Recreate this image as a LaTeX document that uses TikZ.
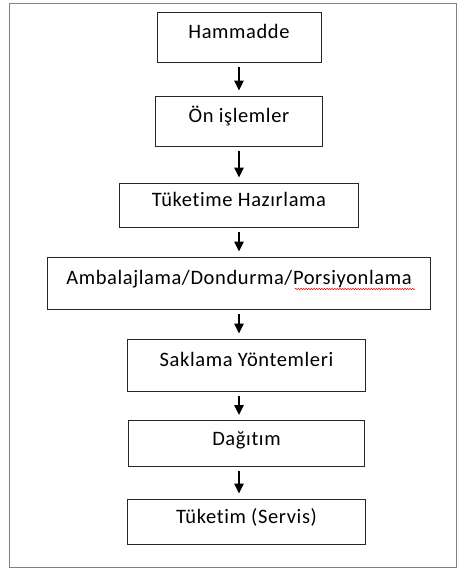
\documentclass[tikz,border=0pt]{standalone}
\usepackage{fontspec}
\setmainfont{Carlito}[Ligatures={NoCommon}, LetterSpace=3]
\usetikzlibrary{arrows.meta}
\usetikzlibrary{decorations.pathmorphing}
\usetikzlibrary{calc,positioning}

\begin{document}
\begin{tikzpicture}[x=1pt, y=-1pt,
  stepbox/.style = {rectangle, draw=black!85, line width=1pt, align=center, inner sep=0,
    font=\fontsize{20.5}{24}\selectfont, text height=15pt, text depth=12pt},
  arr/.style = {-{Triangle[width=9.5pt,length=10pt]}, line width=1.1pt, shorten <=4pt, shorten >=5pt},
  spell/.style = {red, line width=0.5pt, decorate, decoration={snake, amplitude=0.7pt, segment length=2.6pt}},
  node distance=82pt]

\useasboundingbox[fill=white] (0,0) rectangle (458,570);
\draw[gray, line width=1pt] (9.5,3) rectangle (456.5,567.5);

\node[stepbox, minimum width=164pt, minimum height=50pt] (hammadde) at (239,37) {Hammadde};
\node[stepbox, below of=hammadde, node distance=84pt, minimum width=167pt, minimum height=50pt] (onislem) {Ön işlemler};
\node[stepbox, below of=onislem, node distance=84pt, minimum width=239pt, minimum height=44pt] (hazirlama) {Tüketime Hazırlama};
\node[stepbox, below of=hazirlama, node distance=78pt, minimum width=383pt, minimum height=52pt] (ambalaj) {Ambalajlama/Dondurma/Porsiyonlama};
\node[stepbox, below of=ambalaj, xshift=7.5pt, minimum width=238pt, minimum height=52pt] (saklama) {Saklama Yöntemleri};
\node[stepbox, below of=saklama, node distance=78.5pt, minimum width=236pt, minimum height=46pt] (dagitim) {Dağıtım};
\node[stepbox, below of=dagitim, node distance=78pt, minimum width=238pt, minimum height=45pt] (tuketim) {Tüketim (Servis)};

\draw [arr] (hammadde) to (onislem);
\draw [arr] (onislem) to (hazirlama);
\draw [arr] (hazirlama) to (ambalaj);
\draw [arr] (ambalaj.south) to (saklama.north -| ambalaj.south);
\draw [arr] (saklama.south -| ambalaj.south) to (dagitim.north -| ambalaj.south);
\draw [arr] (dagitim.south -| ambalaj.south) to (tuketim.north -| ambalaj.south);

% spell-check squiggle
\draw [spell] ($(ambalaj.base east)+(-136,4.5)$) -- ($(ambalaj.base east)+(-16,4.5)$);

\end{tikzpicture}
\end{document}
